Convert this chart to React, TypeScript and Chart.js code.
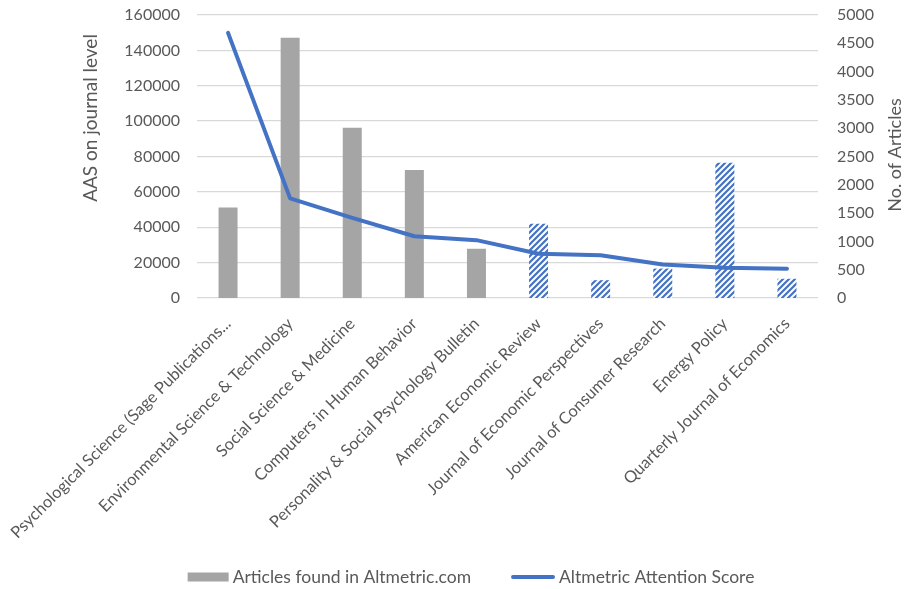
import React, { useEffect, useRef } from "react";
import { Chart, registerables } from "chart.js";

Chart.register(...registerables);

const journals = [
  "Psychological Science (Sage Publications...",
  "Environmental Science & Technology",
  "Social Science & Medicine",
  "Computers in Human Behavior",
  "Personality & Social Psychology Bulletin",
  "American Economic Review",
  "Journal of Economic Perspectives",
  "Journal of Consumer Research",
  "Energy Policy",
  "Quarterly Journal of Economics",
];
const articlesFound = [1600, 4600, 3010, 2260, 870, 1310, 315, 520, 2390, 340];
const attentionScore = [149900, 56300, 45300, 34900, 32700, 25000, 24200, 18900, 17100, 16500];
const economicsJournal = [false, false, false, false, false, true, true, true, true, true];

const aasTickMin = 0;
const aasTickMax = 160000;
const aasTickStep = 20000;
const articleTickMin = 0;
const articleTickMax = 5000;
const articleTickStep = 500;

const seriesNames = ["Articles found in Altmetric.com", "Altmetric Attention Score"];
const axisTitles = ["AAS on journal level", "No. of Articles"];

const GRAY = "#A5A5A5";
const BLUE = "#4472C4";
const TEXT = "#595959";
const FONT = "Lato, 'Open Sans', sans-serif";

function makeHatch(): CanvasPattern | string {
  const c = document.createElement("canvas");
  c.width = 6;
  c.height = 6;
  const g = c.getContext("2d");
  if (!g) return BLUE;
  g.fillStyle = "#ffffff";
  g.fillRect(0, 0, 6, 6);
  g.strokeStyle = BLUE;
  g.lineWidth = 2.2;
  g.beginPath();
  g.moveTo(-1, 7);
  g.lineTo(7, -1);
  g.moveTo(-4, 4);
  g.lineTo(4, -4);
  g.moveTo(2, 10);
  g.lineTo(10, 2);
  g.stroke();
  const p = g.createPattern(c, "repeat");
  return p || BLUE;
}

const extrasPlugin = {
  id: "extras",
  afterDraw(chart: any) {
    const ctx = chart.ctx;
    ctx.save();
    ctx.fillStyle = TEXT;
    ctx.textAlign = "center";
    ctx.textBaseline = "middle";
    // left axis title
    ctx.save();
    ctx.font = `19px ${FONT}`;
    ctx.translate(91, 118);
    ctx.rotate(-Math.PI / 2);
    ctx.fillText(axisTitles[0], 0, 0);
    ctx.restore();
    // right axis title
    ctx.save();
    ctx.font = `18px ${FONT}`;
    ctx.translate(895, 155);
    ctx.rotate(-Math.PI / 2);
    ctx.fillText(axisTitles[1], 0, 0);
    ctx.restore();

    // legend
    ctx.font = `17.5px ${FONT}`;
    ctx.textAlign = "left";
    const w1 = ctx.measureText(seriesNames[0]).width;
    const w2 = ctx.measureText(seriesNames[1]).width;
    const boxW = 41;
    const lineW = 44;
    const gapText = 4;
    const gapItems = 40;
    const total = boxW + gapText + w1 + gapItems + lineW + gapText + w2;
    let x = 471 - total / 2;
    const y = 577;
    ctx.fillStyle = GRAY;
    ctx.fillRect(x, y - 4.5, boxW, 9);
    x += boxW + gapText;
    ctx.fillStyle = TEXT;
    ctx.fillText(seriesNames[0], x, y);
    x += w1 + gapItems;
    ctx.strokeStyle = BLUE;
    ctx.lineWidth = 4;
    ctx.lineCap = "round";
    ctx.beginPath();
    ctx.moveTo(x + 2, y);
    ctx.lineTo(x + lineW - 2, y);
    ctx.stroke();
    x += lineW + gapText;
    ctx.fillText(seriesNames[1], x, y);
    ctx.restore();
  },
};

export default function App() {
  const ref = useRef<HTMLCanvasElement | null>(null);

  useEffect(() => {
    if (!ref.current) return;
    const hatch = makeHatch();
    const barColors = economicsJournal.map((e) => (e ? hatch : GRAY));
    const chart = new Chart(ref.current, {
      type: "bar",
      data: {
        labels: journals,
        datasets: [
          {
            type: "line",
            label: seriesNames[1],
            data: attentionScore,
            yAxisID: "y",
            borderColor: BLUE,
            backgroundColor: BLUE,
            borderWidth: 4,
            pointRadius: 0,
            tension: 0,
            borderCapStyle: "round",
            borderJoinStyle: "round",
            order: 0,
          } as any,
          {
            type: "bar",
            label: seriesNames[0],
            data: articlesFound,
            yAxisID: "y1",
            backgroundColor: barColors as any,
            borderWidth: 0,
            categoryPercentage: 1,
            barPercentage: 0.306,
            order: 1,
          } as any,
        ],
      },
      options: {
        animation: false,
        responsive: false,
        maintainAspectRatio: false,
        layout: { padding: { top: 15, bottom: 40, left: 0, right: 0 } },
        plugins: {
          legend: { display: false },
          tooltip: { enabled: false },
          title: { display: false },
        },
        scales: {
          x: {
            offset: true,
            grid: { display: false, drawTicks: false },
            border: { display: false },
            ticks: {
              autoSkip: false,
              maxRotation: 45,
              minRotation: 45,
              padding: 16,
              color: TEXT,
              font: { family: FONT, size: 16.5 },
            },
            afterFit(scale: any) {
              scale.height = 251;
              scale.paddingLeft = 0;
              scale.paddingRight = 0;
            },
          },
          y: {
            position: "left",
            min: aasTickMin,
            max: aasTickMax,
            grid: { color: "#d9d9d9", lineWidth: 1.3, drawTicks: false },
            border: { display: false },
            ticks: {
              stepSize: aasTickStep,
              padding: 17,
              color: TEXT,
              font: { family: FONT, size: 16 },
              callback: (v: any) => String(v),
            },
            afterFit(scale: any) {
              scale.width = 197;
              scale.paddingTop = 0;
              scale.paddingBottom = 0;
            },
          },
          y1: {
            position: "right",
            min: articleTickMin,
            max: articleTickMax,
            grid: { display: false, drawTicks: false },
            border: { display: false },
            ticks: {
              stepSize: articleTickStep,
              padding: 19,
              color: TEXT,
              font: { family: FONT, size: 16 },
              callback: (v: any) => String(v),
            },
            afterFit(scale: any) {
              scale.width = 87;
              scale.paddingTop = 0;
              scale.paddingBottom = 0;
            },
          },
        },
      } as any,
      plugins: [extrasPlugin],
    });
    return () => chart.destroy();
  }, []);

  return (
    <div style={{ position: "absolute", left: 0, top: 0, width: 905, height: 589, background: "#fff" }}>
      <canvas ref={ref} width={905} height={589} style={{ width: 905, height: 589 }} />
    </div>
  );
}
